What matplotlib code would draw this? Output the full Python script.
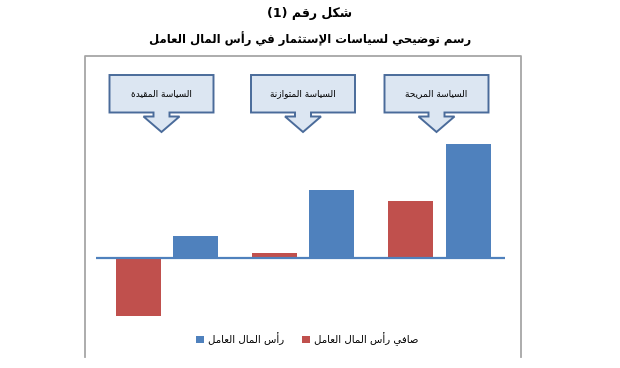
import numpy as np
import matplotlib
matplotlib.use("Agg")
import matplotlib.pyplot as plt
from matplotlib.patches import Polygon
from matplotlib.lines import Line2D

plt.rcParams['font.family'] = ['DejaVu Sans']

# -----------------------------------------------------------------
# Datos
# -----------------------------------------------------------------
title_1 = "شكل رقم (1)"
title_2 = "رسم توضيحي لسياسات الإستثمار في رأس المال العامل"
policies = ["السياسة المقيدة", "السياسة المتوازنة", "السياسة المريحة"]
net_label = "صافي رأس المال العامل"
wc_label = "رأس المال العامل"
net_wc = [-2.55, 0.2, 2.5]        # rojo
working_capital = [0.95, 3.0, 5.0]  # azul

RED = '#C0504D'
BLUE = '#4F81BD'
W, H = 620, 368

# -----------------------------------------------------------------
# matplotlib no une las letras árabes: formas de presentación + RTL
# -----------------------------------------------------------------
forms = {}
code = 0xFE80
for ch, n in [('ء', 1), ('آ', 2), ('أ', 2), ('ؤ', 2), ('إ', 2), ('ئ', 4), ('ا', 2),
              ('ب', 4), ('ة', 2), ('ت', 4), ('ث', 4), ('ج', 4), ('ح', 4), ('خ', 4),
              ('د', 2), ('ذ', 2), ('ر', 2), ('ز', 2), ('س', 4), ('ش', 4), ('ص', 4),
              ('ض', 4), ('ط', 4), ('ظ', 4), ('ع', 4), ('غ', 4), ('ف', 4), ('ق', 4),
              ('ك', 4), ('ل', 4), ('م', 4), ('ن', 4), ('ه', 4), ('و', 2), ('ى', 2),
              ('ي', 4)]:
    forms[ch] = [chr(code + i) for i in range(n)]
    code += n
lam_alef = {'آ': 0xFEF5, 'أ': 0xFEF7, 'إ': 0xFEF9, 'ا': 0xFEFB}


def shape_word(w):
    tokens = []
    i = 0
    while i < len(w):
        c = w[i]
        if c == 'ل' and i + 1 < len(w) and w[i + 1] in lam_alef:
            b = lam_alef[w[i + 1]]
            tokens.append([chr(b), chr(b + 1)])
            i += 2
        else:
            tokens.append(forms.get(c, [c]))
            i += 1
    out = []
    for k, f in enumerate(tokens):
        prev = tokens[k - 1] if k > 0 else None
        nxt = tokens[k + 1] if k + 1 < len(tokens) else None
        jp = prev is not None and len(prev) == 4 and len(f) >= 2
        jn = nxt is not None and len(f) == 4 and len(nxt) >= 2
        if jp and jn:
            out.append(f[3])
        elif jp:
            out.append(f[1])
        elif jn:
            out.append(f[2])
        else:
            out.append(f[0])
    return ''.join(reversed(out))


def ar(s):
    words = s.split(' ')
    res = []
    for w in reversed(words):
        if any(c in forms for c in w):
            res.append(shape_word(w))
        else:
            res.append(w)
    return ' '.join(res)


def fx(px):
    return px / W


def fy(py):
    return 1 - py / H


# -----------------------------------------------------------------
fig = plt.figure(figsize=(6.2, 3.68), dpi=100)

fig.text(0.5, fy(14), ar(title_1), ha='center', va='center', fontsize=9, fontweight='bold')
fig.text(0.5, fy(39), ar(title_2), ha='center', va='center', fontsize=8.4, fontweight='bold')

# marco del gráfico
frame = Line2D([fx(84.5), fx(84.5), fx(521), fx(521)], [fy(357), fy(56), fy(56), fy(357)],
               transform=fig.transFigure, color='#A6A6A6', lw=1.3)
fig.add_artist(frame)

ax = fig.add_axes([fx(96), fy(320), fx(505) - fx(96), fy(140) - fy(320)])
x = np.arange(len(policies))
b_red = ax.bar(x - 0.21, net_wc, width=0.33, color=RED, zorder=2)
b_blue = ax.bar(x + 0.21, working_capital, width=0.33, color=BLUE, zorder=2)
ax.axhline(0, color=BLUE, lw=1.6, zorder=3)
ax.set_xlim(-0.52, 2.48)
ax.set_ylim(-2.74, 5.18)
ax.axis('off')

# cuadros con flecha
box_centers = [161.5, 303, 436.5]
for cx, name in zip(box_centers, policies):
    x0, x1, y0, y1 = cx - 52, cx + 52, 75, 112.5
    pts = [(x0, y0), (x1, y0), (x1, y1), (cx + 8, y1), (cx + 8, y1 + 4), (cx + 18, y1 + 4),
           (cx, y1 + 19.5), (cx - 18, y1 + 4), (cx - 8, y1 + 4), (cx - 8, y1), (x0, y1)]
    poly = Polygon([(fx(a), fy(b)) for a, b in pts], closed=True, transform=fig.transFigure,
                   facecolor='#DCE6F2', edgecolor='#4A6B9A', lw=1.4)
    fig.add_artist(poly)
    fig.text(fx(cx), fy(94), ar(name), ha='center', va='center', fontsize=6.5)

fig.legend([b_blue, b_red], [ar(wc_label), ar(net_label)], ncol=2, loc='center',
           bbox_to_anchor=(fx(307), fy(339)), frameon=False, fontsize=7.3,
           handlelength=0.75, handleheight=0.75, handletextpad=0.4, columnspacing=1.8)

fig.savefig('out.png', dpi=100)
